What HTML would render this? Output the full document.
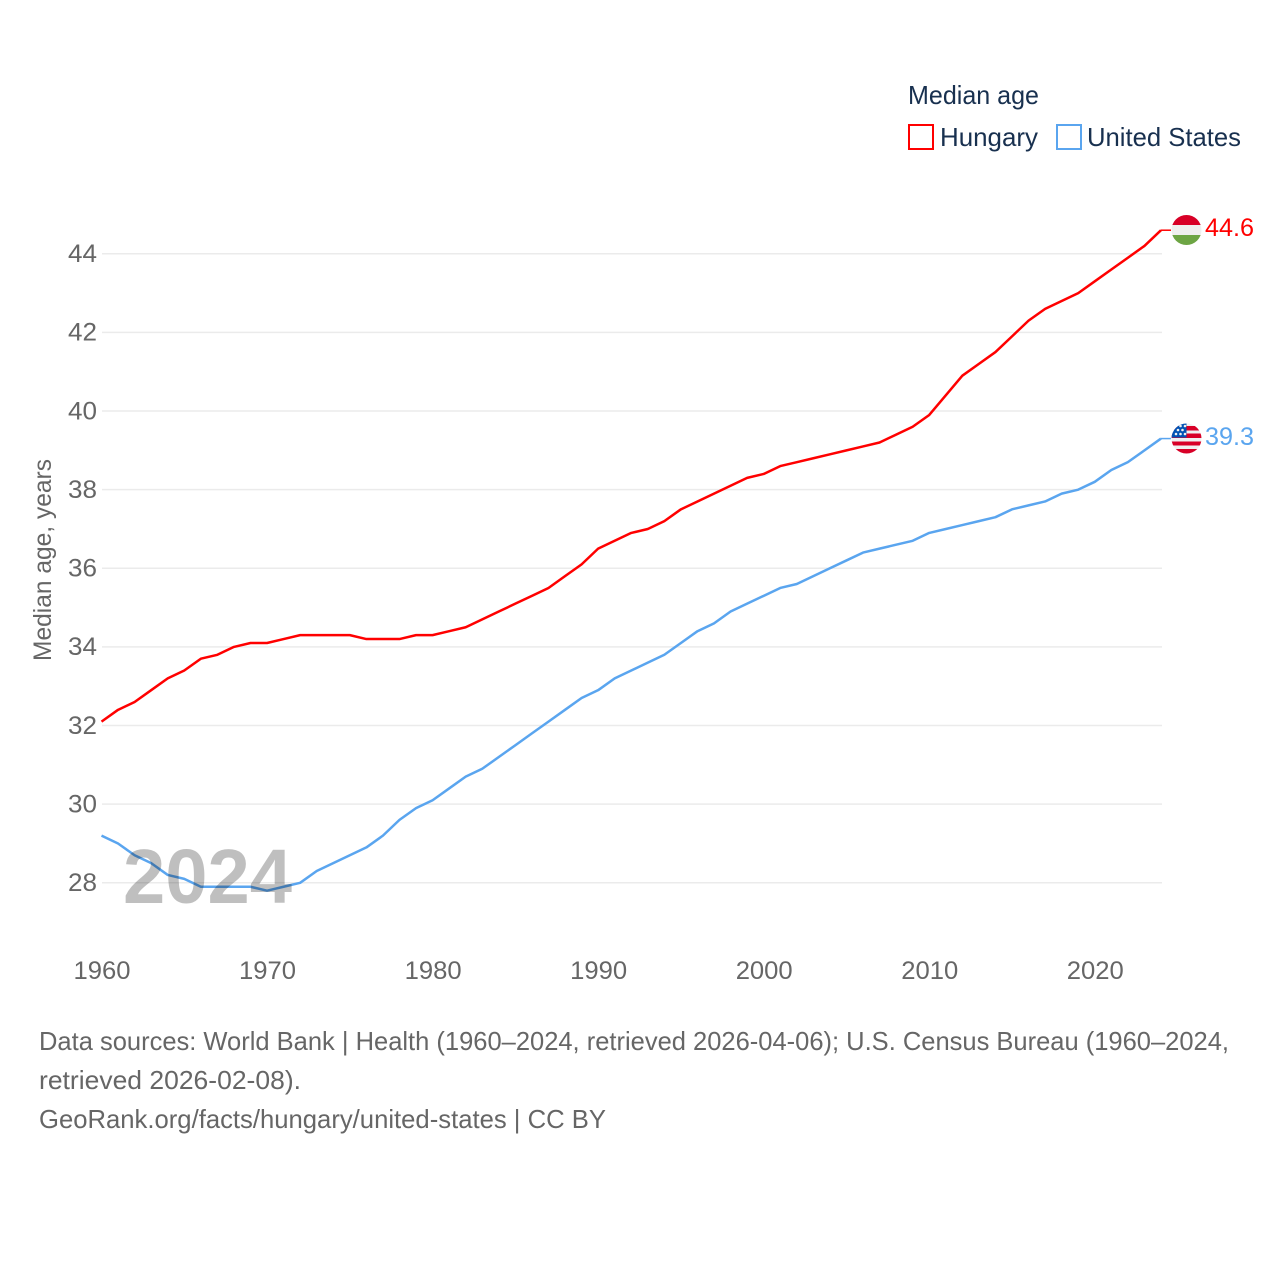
<!DOCTYPE html>
<html lang="en">
<head>
<meta charset="utf-8">
<title>Median age: Hungary and United States</title>
<style>
html,body{margin:0;padding:0;background:#fff;}
svg{display:block;font-family:"Liberation Sans",sans-serif;}
</style>
</head>
<body>
<svg id="chart" xmlns="http://www.w3.org/2000/svg" width="1280" height="1280" viewBox="0 0 1280 1280">
  <rect width="1280" height="1280" fill="#fff"/>
  <g id="grid"></g>
  <g id="yticks"></g>
  <g id="xticks"></g>
  <text transform="translate(51,661) rotate(-90)" font-size="25" fill="#666" textLength="202" lengthAdjust="spacingAndGlyphs">Median age, years</text>

  <g id="series"></g>
  <text x="123" y="903" font-size="77" font-weight="700" fill="#000" fill-opacity="0.25" textLength="169" lengthAdjust="spacingAndGlyphs">2024</text>

  <g>
    <text x="908" y="104" font-size="26" fill="#18304f" textLength="131" lengthAdjust="spacingAndGlyphs">Median age</text>
    <g>
      <rect x="909" y="125" width="24" height="24" fill="#fff" stroke="#ff0000" stroke-width="2"/>
      <text x="940" y="146" font-size="26" fill="#18304f" textLength="98" lengthAdjust="spacingAndGlyphs">Hungary</text>
    </g>
    <g>
      <rect x="1057" y="125" width="24" height="24" fill="#fff" stroke="#5aa5ef" stroke-width="2"/>
      <text x="1087" y="146" font-size="26" fill="#18304f" textLength="154" lengthAdjust="spacingAndGlyphs">United States</text>
    </g>
  </g>

  <defs>
    <clipPath id="clip-hu"><circle cx="1186.5" cy="230" r="15"/></clipPath>
    <clipPath id="clip-us"><circle cx="1186.5" cy="438.5" r="15"/></clipPath>
  </defs>
  <g clip-path="url(#clip-hu)">
    <rect x="1171" y="215" width="31" height="10" fill="#d80027"/>
    <rect x="1171" y="225" width="31" height="10" fill="#efefef"/>
    <rect x="1171" y="235" width="31" height="10" fill="#6da544"/>
  </g>
  <g clip-path="url(#clip-us)">
    <rect x="1171" y="423" width="31" height="31" fill="#f0f0f0"/>
    <rect x="1171" y="426" width="31" height="4.5" fill="#d80027"/>
    <rect x="1171" y="433.5" width="31" height="4.5" fill="#d80027"/>
    <rect x="1171" y="441.5" width="31" height="4" fill="#d80027"/>
    <rect x="1171" y="449" width="31" height="5" fill="#d80027"/>
    <rect x="1171" y="423" width="15.5" height="14.5" fill="#0052b4"/>
    <g fill="#f0f0f0">
      <circle cx="1176" cy="434" r="1.3"/><circle cx="1180.5" cy="434" r="1.3"/><circle cx="1185" cy="434" r="1.3"/>
      <circle cx="1178" cy="430" r="1.3"/><circle cx="1182.5" cy="430" r="1.3"/>
      <circle cx="1180.5" cy="426" r="1.3"/><circle cx="1185" cy="426" r="1.3"/>
    </g>
  </g>
  <text id="value-hungary" x="1205" y="236" font-size="25" fill="#ff0000" textLength="49" lengthAdjust="spacingAndGlyphs">44.6</text>
  <text id="value-us" x="1205" y="445" font-size="25" fill="#5aa5ef" textLength="49" lengthAdjust="spacingAndGlyphs">39.3</text>

  <g font-size="26" fill="#666">
    <text x="39" y="1050" textLength="1190" lengthAdjust="spacingAndGlyphs">Data sources: World Bank | Health (1960–2024, retrieved 2026-04-06); U.S. Census Bureau (1960–2024,</text>
    <text x="39" y="1089" textLength="262" lengthAdjust="spacingAndGlyphs">retrieved 2026-02-08).</text>
    <text x="39" y="1128" textLength="567" lengthAdjust="spacingAndGlyphs">GeoRank.org/facts/hungary/united-states | CC BY</text>
  </g>
</svg>
<script>
const firstYear = 1960;
const hungaryValues = [32.1,32.4,32.6,32.9,33.2,33.4,33.7,33.8,34.0,34.1,34.1,34.2,34.3,34.3,34.3,34.3,34.2,34.2,34.2,34.3,34.3,34.4,34.5,34.7,34.9,35.1,35.3,35.5,35.8,36.1,36.5,36.7,36.9,37.0,37.2,37.5,37.7,37.9,38.1,38.3,38.4,38.6,38.7,38.8,38.9,39.0,39.1,39.2,39.4,39.6,39.9,40.4,40.9,41.2,41.5,41.9,42.3,42.6,42.8,43.0,43.3,43.6,43.9,44.2,44.6];
const unitedStatesValues = [29.2,29.0,28.7,28.5,28.2,28.1,27.9,27.9,27.9,27.9,27.8,27.9,28.0,28.3,28.5,28.7,28.9,29.2,29.6,29.9,30.1,30.4,30.7,30.9,31.2,31.5,31.8,32.1,32.4,32.7,32.9,33.2,33.4,33.6,33.8,34.1,34.4,34.6,34.9,35.1,35.3,35.5,35.6,35.8,36.0,36.2,36.4,36.5,36.6,36.7,36.9,37.0,37.1,37.2,37.3,37.5,37.6,37.7,37.9,38.0,38.2,38.5,38.7,39.0,39.3];
const yTickValues = [28,30,32,34,36,38,40,42,44];
const xTickValues = [1960,1970,1980,1990,2000,2010,2020];

const NS = 'http://www.w3.org/2000/svg';
function xScale(year) { return 101.5 + (year - 1960) * (1161 - 101.5) / 64; }
function yScale(value) { return 882.8 - (value - 28) * (882.8 - 253.8) / 16; }

const gridGroup = document.getElementById('grid');
const yTickGroup = document.getElementById('yticks');
const xTickGroup = document.getElementById('xticks');
const seriesGroup = document.getElementById('series');

yTickValues.forEach(function (v) {
  const line = document.createElementNS(NS, 'line');
  
  
  line.setAttribute('x1', 102);
  line.setAttribute('x2', 1162);
  line.setAttribute('y1', yScale(v));
  line.setAttribute('y2', yScale(v));
  line.setAttribute('stroke', '#ebebeb');
  line.setAttribute('stroke-width', '1.5');
  gridGroup.appendChild(line);

  const label = document.createElementNS(NS, 'text');
  
  
  label.setAttribute('x', 68);
  label.setAttribute('y', yScale(v) + 8.2);
  label.setAttribute('font-size', '25');
  label.setAttribute('fill', '#666');
  label.setAttribute('textLength', '29');
  label.setAttribute('lengthAdjust', 'spacingAndGlyphs');
  label.textContent = String(v);
  yTickGroup.appendChild(label);
});

xTickValues.forEach(function (year) {
  const label = document.createElementNS(NS, 'text');
  
  
  label.setAttribute('x', xScale(year) - 28);
  label.setAttribute('y', 979);
  label.setAttribute('font-size', '25');
  label.setAttribute('fill', '#666');
  label.setAttribute('textLength', '57');
  label.setAttribute('lengthAdjust', 'spacingAndGlyphs');
  label.textContent = String(year);
  xTickGroup.appendChild(label);
});

function drawSeries(values, color) {
  const pts = values.map(function (v, i) {
    return xScale(firstYear + i).toFixed(2) + ',' + yScale(v).toFixed(2);
  });
  const line = document.createElementNS(NS, 'polyline');
  
  
  line.setAttribute('points', pts.join(' '));
  line.setAttribute('fill', 'none');
  line.setAttribute('stroke', color);
  line.setAttribute('stroke-width', '2.5');
  line.setAttribute('stroke-linejoin', 'round');
  seriesGroup.appendChild(line);

  const lastValue = values[values.length - 1];
  const lastX = xScale(firstYear + values.length - 1);
  const connector = document.createElementNS(NS, 'line');
  
  
  connector.setAttribute('x1', lastX);
  connector.setAttribute('x2', lastX + 10);
  connector.setAttribute('y1', yScale(lastValue));
  connector.setAttribute('y2', yScale(lastValue));
  connector.setAttribute('stroke', color);
  connector.setAttribute('stroke-width', '1.5');
  seriesGroup.appendChild(connector);
}

drawSeries(hungaryValues, '#ff0000');
drawSeries(unitedStatesValues, '#5aa5ef');
</script>
</body>
</html>
